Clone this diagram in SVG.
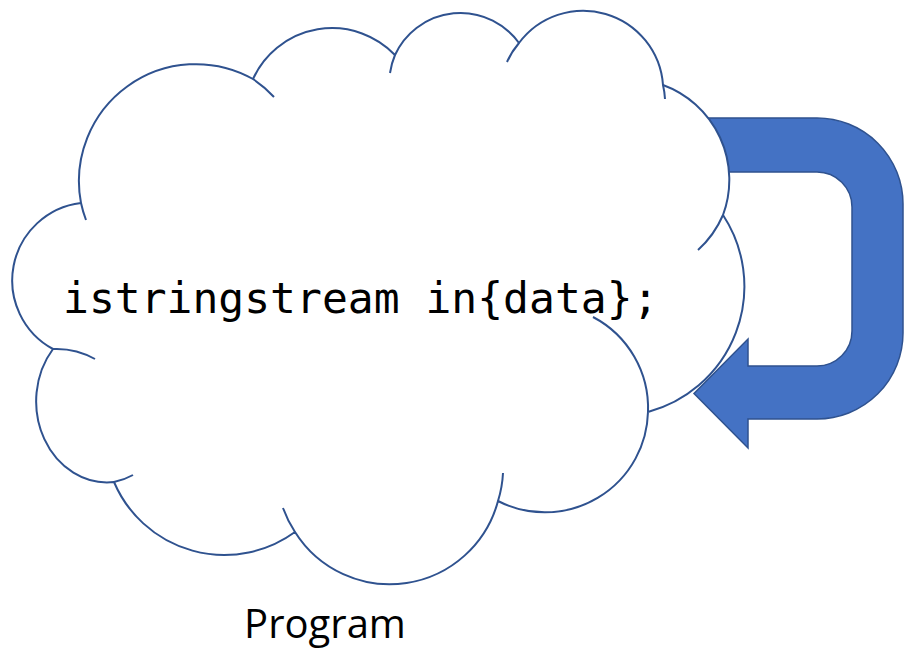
<svg xmlns="http://www.w3.org/2000/svg" width="904" height="651" viewBox="0 0 904 651">
  <style>
    .outline { fill: #ffffff; stroke: #2F528F; stroke-width: 2; stroke-linejoin: round; }
    .tick { fill: none; stroke: #2F528F; stroke-width: 2; stroke-linecap: butt; }
    .arrow { fill: #4472C4; stroke: #2F528F; stroke-width: 1.5; stroke-linejoin: miter; }
    .code { font-family: "DejaVu Sans Mono", "Liberation Mono", monospace; font-size: 43px; fill: #000000; }
    .label { font-family: "Open Sans", "Liberation Sans", sans-serif; font-size: 40px; fill: #000000; }
  </style>
  <rect x="0" y="0" width="904" height="651" fill="#ffffff"/>
  <g id="connectors">
    <path class="arrow" d="M700,118 H817 A86,86 0 0,1 903,204 V333 A86,86 0 0,1 817,419 H748 V448 L694,393.5 L748,339 V366 H817 A35,35 0 0,0 852,331 V207 A35,35 0 0,0 817,172 H700 Z"/>
  </g>
  <g id="cloud">
    <path class="outline" d="M81,203 A117,117 0 0,1 253,79 A87,87 0 0,1 395,55 A72,72 0 0,1 519,43 A80,80 0 0,1 663,85 A101,101 0 0,1 723,215 A130,130 0 0,1 648,412 A103,103 0 0,1 498,501 A112,112 0 0,1 295,532 A120,120 0 0,1 114,482 A71,81 0 0,1 53,349 A78,78 0 0,1 81,203 Z"/>
    <path class="tick" d="M253,79 A117,117 0 0,1 274,97"/>
    <path class="tick" d="M395,55 A72,72 0 0,0 390,73"/>
    <path class="tick" d="M519,43 A80,80 0 0,0 507,62"/>
    <path class="tick" d="M663,85 A80,80 0 0,1 665,99"/>
    <path class="tick" d="M723,215 A101,101 0 0,1 698,250"/>
    <path class="tick" d="M648,412 A103,103 0 0,0 593,317"/>
    <path class="tick" d="M498,501 A112,112 0 0,0 503,473"/>
    <path class="tick" d="M295,532 A112,112 0 0,1 283,508"/>
    <path class="tick" d="M114,482 A71,81 0 0,0 133,475"/>
    <path class="tick" d="M53,349 A78,78 0 0,1 95,359"/>
    <path class="tick" d="M81,203 A117,117 0 0,0 86,220"/>
    <text class="code" x="63" y="313">istringstream in{data};</text>
  </g>
  <g id="label-program">
    <text class="label" x="325" y="638" text-anchor="middle">Program</text>
  </g>
</svg>
